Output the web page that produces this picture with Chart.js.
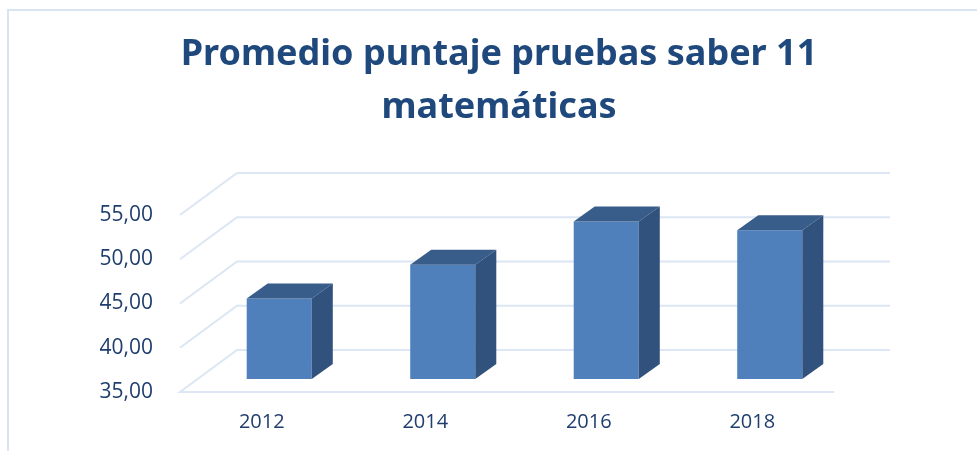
<!DOCTYPE html>
<html>
<head>
<meta charset="utf-8">
<script src="https://cdn.jsdelivr.net/npm/chart.js@4.4.1/dist/chart.umd.min.js"></script>
<style>
  html, body { margin: 0; padding: 0; background: #fff; }
  #wrap { width: 977px; height: 451px; position: relative; }
</style>
</head>
<body>
<div id="wrap"><canvas id="BarChart3D" width="977" height="451"></canvas></div>
<script>
var years = ["2012", "2014", "2016", "2018"];
var puntajes = [44.1, 47.9, 52.8, 51.8];
var yMin = 35, yMax = 55, yStep = 5;
var titulo = ["Promedio puntaje pruebas saber 11", "matemáticas"];

// fake 3D: bars sit a bit behind the front floor, walls further back
var barShift = { x: 17.5, y: -13 };
var barDepth = { x: 21, y: -15 };
var wallDepth = { x: 57, y: -42 };

var caja3D = {
    id: 'caja3D',
    beforeDraw: function (chart) {
        var c = chart.ctx;
        c.save();
        c.fillStyle = '#fff';
        c.fillRect(0, 0, chart.width, chart.height);
        c.strokeStyle = '#d9e3f2';
        c.lineWidth = 2;
        c.beginPath();
        c.moveTo(8, chart.height);
        c.lineTo(8, 10);
        c.lineTo(chart.width, 10);
        c.stroke();
        c.restore();
    },
    beforeDatasetsDraw: function (chart) {
        var c = chart.ctx, area = chart.chartArea, y = chart.scales.y;
        c.save();
        c.strokeStyle = '#dce6f4';
        c.lineWidth = 2;
        y.ticks.forEach(function (t) {
            var py = y.getPixelForValue(t.value);
            c.beginPath();
            if (t.value === yMin) {
                c.moveTo(area.right, py);
                c.lineTo(area.left, py);
            } else {
                c.moveTo(area.left, py);
            }
            c.lineTo(area.left + wallDepth.x, py + wallDepth.y);
            c.lineTo(area.right + wallDepth.x - 1, py + wallDepth.y);
            c.stroke();
        });
        c.restore();
        c.save();
        c.translate(barShift.x, barShift.y);
    },
    afterDatasetsDraw: function (chart) {
        var c = chart.ctx;
        chart.getDatasetMeta(0).data.forEach(function (bar) {
            var l = bar.x - bar.width / 2, r = bar.x + bar.width / 2;
            var top = bar.y, base = bar.base;
            c.fillStyle = '#385d8a';
            c.beginPath();
            c.moveTo(l, top);
            c.lineTo(l + barDepth.x, top + barDepth.y);
            c.lineTo(r + barDepth.x, top + barDepth.y);
            c.lineTo(r, top);
            c.closePath();
            c.fill();
            c.fillStyle = '#31527c';
            c.beginPath();
            c.moveTo(r, top);
            c.lineTo(r + barDepth.x, top + barDepth.y);
            c.lineTo(r + barDepth.x, base + barDepth.y);
            c.lineTo(r, base);
            c.closePath();
            c.fill();
        });
        c.restore();
    }
};

var ctx = document.getElementById('BarChart3D');
var chart = new Chart(ctx, {
    type: 'bar',
    data: {
        labels: years,
        datasets: [{
            label: 'Puntaje',
            data: puntajes,
            base: yMin,
            backgroundColor: '#4f80bc',
            borderWidth: 0,
            barPercentage: 0.398,
            categoryPercentage: 1,
            clip: false
        }]
    },
    options: {
        responsive: false,
        animation: false,
        layout: { padding: { left: 21, right: 0, top: 0, bottom: 0 } },
        plugins: {
            legend: { display: false },
            tooltip: { enabled: false },
            title: {
                display: true,
                text: titulo,
                color: '#1f497d',
                font: { family: "'Noto Sans', sans-serif", size: 36, weight: 'bold', lineHeight: 53 / 36 },
                padding: { top: 28.5, bottom: 80.5 }
            }
        },
        scales: {
            x: {
                grid: { display: false, drawTicks: false },
                border: { display: false },
                ticks: {
                    color: '#1f3e6e',
                    padding: 18,
                    font: { family: "'Open Sans', sans-serif", size: 20 }
                },
                afterFit: function (s) { s.height = 59; }
            },
            y: {
                min: yMin,
                max: yMax,
                grid: { display: false, drawTicks: false },
                border: { display: false },
                ticks: {
                    stepSize: yStep,
                    color: '#1f3e6e',
                    padding: 27,
                    font: { family: "'Open Sans', sans-serif", size: 21 },
                    callback: function (v) { return v.toFixed(2).replace('.', ','); }
                },
                afterFit: function (s) { s.width = 159; }
            },
            yRight: {
                position: 'right',
                min: yMin,
                max: yMax,
                grid: { display: false, drawTicks: false },
                border: { display: false },
                ticks: { display: false },
                afterFit: function (s) { s.width = 143; }
            }
        }
    },
    plugins: [caja3D]
});
</script>
</body>
</html>
